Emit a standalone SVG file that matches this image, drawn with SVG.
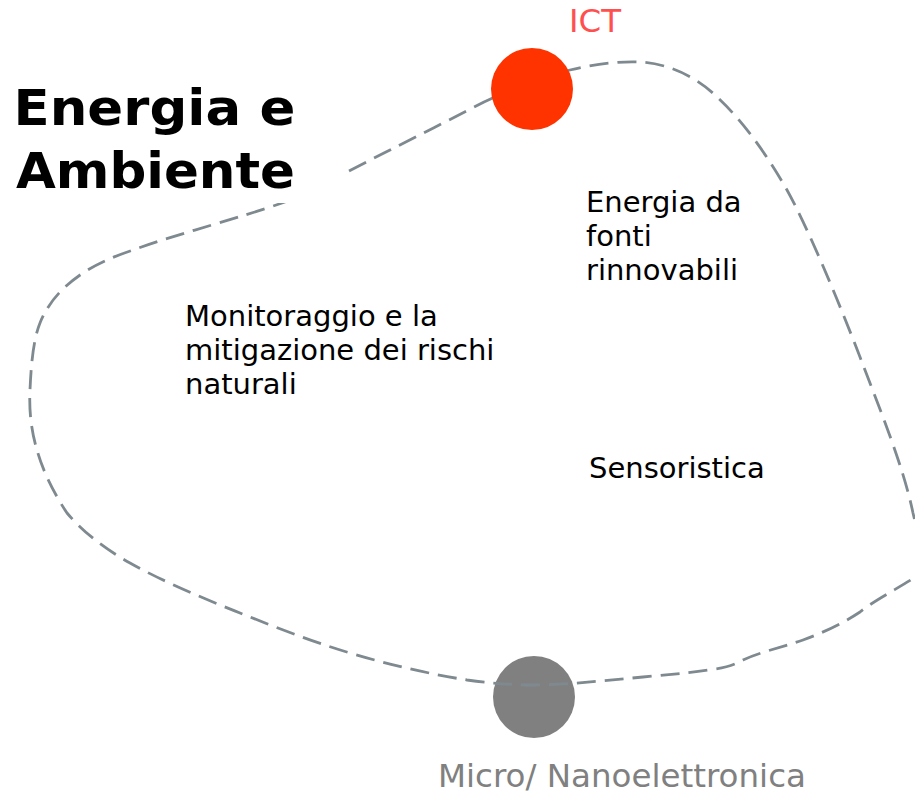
<svg xmlns="http://www.w3.org/2000/svg" width="915" height="794" viewBox="0 0 915 794">
<style>
.lbl{font-family:"DejaVu Sans",Verdana,sans-serif;font-size:29px;fill:#000}
.title{font-family:"DejaVu Sans",Verdana,sans-serif;font-size:49px;font-weight:bold;fill:#000}
.cap{font-family:"DejaVu Sans",Verdana,sans-serif;font-size:32.5px}
.loop{fill:none;stroke:#7f8a90;stroke-width:2.8;stroke-dasharray:19 9}
</style>
<rect width="915" height="794" fill="#fff"/>
<g id="micro">
<circle cx="534" cy="697" r="41" fill="#808080"/>
<text class="cap" x="438" y="787" fill="#808080">Micro/ Nanoelettronica</text>
</g>
<g id="connectors">
<path class="loop" d="M484,102 C510,90 540,78 570,70 C590,65 615,61 640,62 C665,63 695,75 717,97 C745,123 768,157 787,190 C808,228 838,300 860,357 C880,410 903,465 913,513 C922,550 922,570 914,578 C895,590 875,600 860,612 C845,622 825,632 803,640 C780,648 760,652 743,660 C735,664 730,667 715,669 C690,673 665,675 643,677 C600,681 565,685 533,685 C510,685 490,683 467,680 C430,674 390,665 350,653 C310,641 275,627 240,613 C200,597 160,580 130,563 C105,549 83,532 67,513 C55,495 43,472 37,450 C31,430 29,410 30,390 C31,367 33,340 40,323 C48,303 62,287 83,273 C98,263 115,256 133,250 C180,233 240,218 282,203 C310,192 350,170 390,150 C420,135 455,117 484,102 Z"/>
</g>
<g id="ict">
<circle cx="532" cy="89" r="41" fill="#ff3300"/>
<text class="cap" x="569" y="32" fill="#ff5050" font-size="34">ICT</text>
</g>
<g id="title">
<rect x="0" y="70" width="343" height="133" fill="#fff"/>
<text class="title" x="13.5" y="125" textLength="282" lengthAdjust="spacingAndGlyphs">Energia e</text>
<text class="title" x="16" y="188" textLength="279" lengthAdjust="spacingAndGlyphs">Ambiente</text>
</g>
<g id="monitoraggio">
<text class="lbl" x="185" y="326">Monitoraggio e la</text>
<text class="lbl" x="185" y="360">mitigazione dei rischi</text>
<text class="lbl" x="185" y="394">naturali</text>
</g>
<g id="energia">
<text class="lbl" x="586" y="212">Energia da</text>
<text class="lbl" x="586" y="246">fonti</text>
<text class="lbl" x="586" y="280">rinnovabili</text>
</g>
<g id="sensoristica">
<text class="lbl" x="589" y="478">Sensoristica</text>
</g>
</svg>
